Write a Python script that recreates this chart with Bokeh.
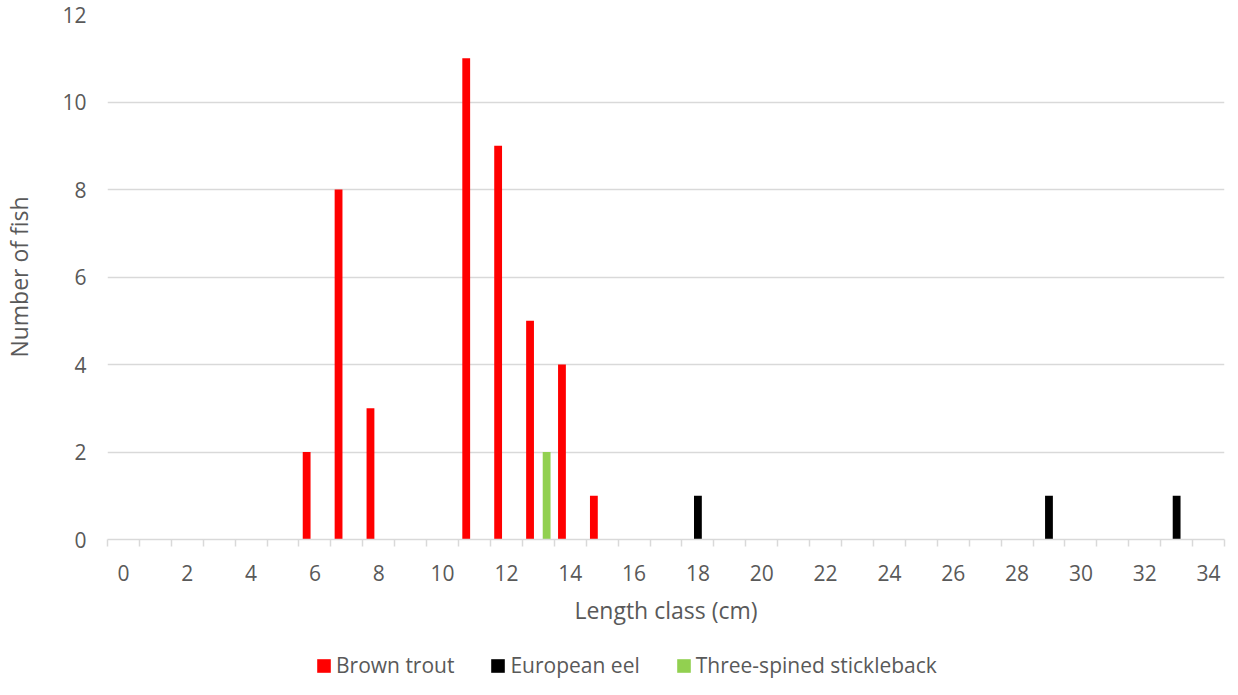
from bokeh.plotting import figure
from bokeh.layouts import column
from bokeh.models import (ColumnDataSource, Range1d, FixedTicker, Legend, LegendItem)
from bokeh.transform import dodge
from bokeh.embed import file_html
from bokeh.resources import INLINE

# ---- data ----
categories = list(range(35))
brown_trout = [0, 0, 0, 0, 0, 0, 2, 8, 3, 0, 0, 11, 9, 5, 4, 1, 0, 0, 0, 0,
               0, 0, 0, 0, 0, 0, 0, 0, 0, 0, 0, 0, 0, 0, 0]
european_eel = [0, 0, 0, 0, 0, 0, 0, 0, 0, 0, 0, 0, 0, 0, 0, 0, 0, 0, 1, 0,
                0, 0, 0, 0, 0, 0, 0, 0, 0, 1, 0, 0, 0, 1, 0]
stickleback = [0, 0, 0, 0, 0, 0, 0, 0, 0, 0, 0, 0, 0, 2, 0, 0, 0, 0, 0, 0,
               0, 0, 0, 0, 0, 0, 0, 0, 0, 0, 0, 0, 0, 0, 0]
series_names = ["Brown trout", "European eel", "Three-spined stickleback"]
series_colors = ["#FF0000", "#000000", "#92D050"]
series_cols = ["trout", "eel", "stick"]
x_tick_labels = list(range(0, 35, 2))
y_tick_labels = list(range(0, 13, 2))

FONT = "Open Sans"
TXT = "#595959"
GRID = "#d9d9d9"

src = ColumnDataSource(dict(x=categories, trout=brown_trout,
                            eel=european_eel, stick=stickleback))

p = figure(frame_width=1117, frame_height=525,
           output_backend="svg", toolbar_location=None,
           x_range=Range1d(-0.5, 34.5), y_range=Range1d(0, 12),
           min_border_left=103, min_border_right=2, min_border_top=14,
           min_border_bottom=95)
p.outline_line_color = None
p.background_fill_color = "white"

bw = 0.245
offsets = [-0.26, 0.0, 0.26]
for col, colr, o in zip(series_cols, series_colors, offsets):
    p.vbar(x=dodge("x", o, range=p.x_range), top=col, width=bw, source=src,
           fill_color=colr, line_color=None)

# axes
xa = p.xaxis[0]
xa.ticker = FixedTicker(ticks=x_tick_labels,
                        minor_ticks=[c - 0.5 for c in categories] + [categories[-1] + 0.5])
xa.axis_line_color = GRID
xa.axis_line_width = 1.5
xa.major_tick_line_color = None
xa.major_tick_out = 0
xa.major_tick_in = 0
xa.minor_tick_line_color = GRID
xa.minor_tick_line_width = 1.5
xa.minor_tick_out = 7
xa.minor_tick_in = 0
xa.major_label_standoff = 18
xa.major_label_text_font = FONT
xa.major_label_text_font_size = "21px"
xa.major_label_text_color = TXT
xa.axis_label = "Length class (cm)"
xa.axis_label_text_font = FONT
xa.axis_label_text_font_size = "23px"
xa.axis_label_text_font_style = "normal"
xa.axis_label_text_color = TXT
xa.axis_label_standoff = 10

ya = p.yaxis[0]
ya.ticker = FixedTicker(ticks=y_tick_labels)
ya.axis_line_color = None
ya.major_tick_line_color = None
ya.minor_tick_line_color = None
ya.major_tick_out = 0
ya.major_tick_in = 0
ya.major_label_standoff = 21
ya.major_label_text_font = FONT
ya.major_label_text_font_size = "21px"
ya.major_label_text_color = TXT
ya.axis_label = "Number of fish"
ya.axis_label_text_font = FONT
ya.axis_label_text_font_size = "23px"
ya.axis_label_text_font_style = "normal"
ya.axis_label_text_color = TXT
ya.axis_label_standoff = 24

p.xgrid.grid_line_color = None
p.ygrid.grid_line_color = GRID
p.ygrid.grid_line_width = 1.5

# ---- legend strip: same series, their bars lie outside this strip's view ----
pl = figure(frame_width=1117, frame_height=45, output_backend="svg",
            toolbar_location=None,
            x_range=Range1d(-0.5, 34.5), y_range=Range1d(100, 101),
            x_axis_location=None, y_axis_location=None,
            min_border_left=103, min_border_right=2, min_border_top=0,
            min_border_bottom=0)
pl.outline_line_color = None
pl.grid.visible = False
leg_items = []
for name, col, colr, o in zip(series_names, series_cols, series_colors, offsets):
    r = pl.vbar(x=dodge("x", o, range=pl.x_range), top=col, width=bw, source=src,
                fill_color=colr, line_color=None)
    leg_items.append(LegendItem(label=name, renderers=[r]))

legend = Legend(items=leg_items, location=(280, 0), orientation="horizontal",
                padding=0, margin=0, spacing=35,
                glyph_width=17, glyph_height=17, label_standoff=4,
                label_text_font=FONT, label_text_font_size="21px",
                label_text_color=TXT, border_line_color=None,
                background_fill_alpha=0)
pl.add_layout(legend, "center")

layout = column(p, pl, spacing=0)
open("out.html", "w").write(file_html(layout, INLINE))
